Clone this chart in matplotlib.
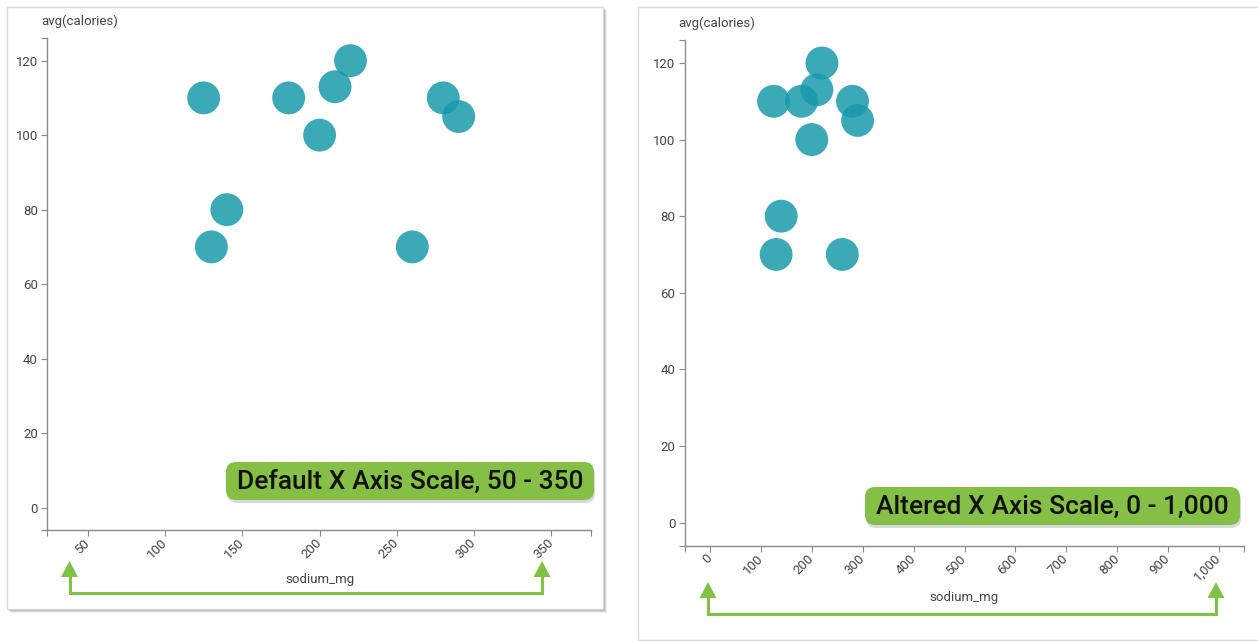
import numpy as np
import matplotlib
matplotlib.use('Agg')
import matplotlib.pyplot as plt
from matplotlib.patches import Rectangle, FancyBboxPatch, Polygon
from matplotlib.ticker import FuncFormatter

# cereal data
sodium_mg = [125, 140, 130, 180, 200, 210, 220, 260, 280, 290]
avg_calories = [110, 80, 70, 110, 100, 113, 120, 70, 110, 105]
y_ticks = [0, 20, 40, 60, 80, 100, 120]
left_x_ticks = [50, 100, 150, 200, 250, 300, 350]
right_x_ticks = [0, 100, 200, 300, 400, 500, 600, 700, 800, 900, 1000]
left_note = 'Default X Axis Scale, 50 - 350'
right_note = 'Altered X Axis Scale, 0 - 1,000'

W, H = 1258, 641
dot_color = '#1799aa'
green_box = '#86bf46'
green_line = '#7fc244'
axis_gray = '#8a8a8a'
text_gray = '#444444'
font = ['Roboto', 'DejaVu Sans']

fig = plt.figure(figsize=(W / 100, H / 100), dpi=100)
fig.patch.set_facecolor('white')

# pixel helper: image coords (y down) -> figure fraction rect
def rect(x0, y0, x1, y1):
    return [x0 / W, 1 - y1 / H, (x1 - x0) / W, (y1 - y0) / H]

# background layer for the panel frames
bg = fig.add_axes([0, 0, 1, 1], zorder=0)
bg.set_xlim(0, W)
bg.set_ylim(H, 0)
bg.axis('off')
for i, a in enumerate([0.10, 0.18, 0.28, 0.40]):
    off = 4 - i
    bg.add_patch(Rectangle((7 + off, 7 + off), 596, 602, fc='#666666', ec='none', alpha=a))
bg.add_patch(Rectangle((7, 7), 596, 602, fc='white', ec='#d8d8d8', lw=1))
bg.add_patch(Rectangle((638, 7), 640, 633, fc='white', ec='#d8d8d8', lw=1))


def make_panel(pos, xlim, xticks, label_xy, ylabel_xy):
    ax = fig.add_axes(rect(*pos), zorder=1)
    ax.patch.set_alpha(0)
    ax.scatter(sodium_mg, avg_calories, s=560, c=dot_color, alpha=0.84,
               edgecolors='none', zorder=3)
    ax.set_xlim(*xlim)
    ax.set_ylim(-6, 126)
    ax.set_xticks(xticks)
    ax.set_yticks(y_ticks)
    ax.set_xticks(list(xlim), minor=True)
    ax.set_yticks([-6, 126], minor=True)
    ax.xaxis.set_major_formatter(FuncFormatter(lambda v, p: f'{v:,.0f}'))
    for s in ['top', 'right']:
        ax.spines[s].set_visible(False)
    for s in ['left', 'bottom']:
        ax.spines[s].set_color(axis_gray)
        ax.spines[s].set_linewidth(1)
    ax.tick_params(which='both', length=4.3, width=0.8, color=axis_gray,
                   labelcolor=text_gray, labelsize=9.5)
    ax.tick_params(axis='y', pad=2.5)
    ax.tick_params(axis='x', pad=3.5)
    for lab in ax.get_xticklabels() + ax.get_yticklabels():
        lab.set_family(font)
    for lab in ax.get_xticklabels():
        lab.set_rotation(45)
        lab.set_ha('right')
        lab.set_va('center')
        lab.set_rotation_mode('anchor')
    fig.text(label_xy[0] / W, 1 - label_xy[1] / H, 'sodium_mg', ha='center',
             va='center', fontsize=9.5, color=text_gray, family=font)
    fig.text(ylabel_xy[0] / W, 1 - ylabel_xy[1] / H, 'avg(calories)', ha='left',
             va='center', fontsize=9.5, color=text_gray, family=font)
    return ax


make_panel((47.4, 38.3, 591, 530), (23.9, 375.6), left_x_ticks, (320, 579), (41, 21))
make_panel((685, 40, 1244, 545.5), (-49, 1049), right_x_ticks, (964, 597), (678, 23))

# overlay layer: callout boxes and arrows
ov = fig.add_axes([0, 0, 1, 1], zorder=5)
ov.set_xlim(0, W)
ov.set_ylim(H, 0)
ov.axis('off')
ov.patch.set_alpha(0)


def callout(x0, y0, x1, y1, txt):
    r = 10
    ov.add_patch(FancyBboxPatch((x0 + r + 1, y0 + r + 3), x1 - x0 - 2 * r, y1 - y0 - 2 * r,
                                boxstyle=f'round,pad={r},rounding_size={r}',
                                fc='#555555', ec='none', alpha=0.22))
    ov.add_patch(FancyBboxPatch((x0 + r, y0 + r), x1 - x0 - 2 * r, y1 - y0 - 2 * r,
                                boxstyle=f'round,pad={r},rounding_size={r}',
                                fc=green_box, ec='none'))
    ov.text((x0 + x1) / 2, (y0 + y1) / 2 + 1, txt, ha='center', va='center',
            fontsize=19, fontweight='medium', color='#111111', family=font)


def bracket(xa, xb, top, base_y):
    ov.plot([xa, xa, xb, xb], [top + 15, base_y, base_y, top + 15],
            color=green_line, lw=2.2, solid_joinstyle='miter')
    for xc in (xa, xb):
        ov.add_patch(Polygon([(xc - 8.5, top + 16), (xc + 8.5, top + 16), (xc, top)],
                             closed=True, fc=green_line, ec='none'))


callout(226, 462, 594, 500, left_note)
callout(865, 487, 1240, 525, right_note)
bracket(69.5, 542, 561, 593)
bracket(708, 1216, 582, 614)

fig.savefig('out.png', dpi=100)
